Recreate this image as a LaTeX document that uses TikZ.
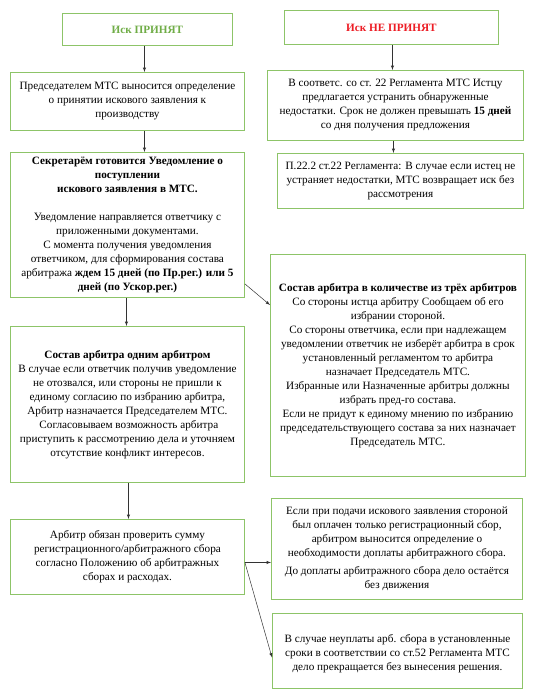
\documentclass[tikz,border=0pt]{standalone}
\usepackage{fontspec}
\setmainfont{Liberation Serif}
\usepackage{tikz}
\usetikzlibrary{arrows}
\definecolor{boxgreen}{RGB}{141,196,104}
\definecolor{okgreen}{RGB}{112,173,71}
\definecolor{nored}{RGB}{237,28,36}
\tikzstyle{abstract}=[rectangle, draw=boxgreen, line width=0.9pt, fill=white,
        text centered, align=center, anchor=north west, text=black, inner sep=2pt,
        font=\fontsize{11.2pt}{14pt}\selectfont]
\tikzstyle{myarrow}=[->, >=latex, line width=0.5pt, draw=black!80]

\begin{document}
\begin{tikzpicture}[x=1pt, y=-1pt]
	\useasboundingbox (0,0) rectangle (532,700);

	% left column
	\node (Accepted) [abstract, minimum width=170pt, minimum height=32pt] at (62,13)
        {\textcolor{okgreen}{\textbf{Иск ПРИНЯТ}}};

	\node (Decision) [abstract, minimum width=234pt, minimum height=58pt] at (10,72)
        {Председателем МТС выносится определение\\
         о принятии искового заявления к\\
         производству};

	\node (Notice) [abstract, minimum width=234pt, minimum height=145pt] at (10,152)
        {\textbf{Секретарём готовится Уведомление  о}\\
         \textbf{поступлении}\\
         \textbf{искового заявления в МТС.}\\[14pt]
         Уведомление направляется  ответчику с\\
         приложенными документами.\\
         С момента получения уведомления\\
         ответчиком, для сформирования состава\\
         арбитража  \textbf{ждем 15 дней (по Пр.рег.) или 5}\\
         \textbf{дней (по Ускор.рег.)}};

	\node (OneArb) [abstract, minimum width=234pt, minimum height=156pt] at (10,326)
        {\textbf{Состав арбитра одним арбитром}\\
         В случае если ответчик получив уведомление\\
         не отозвался,  или стороны  не пришли  к\\
         единому согласию по избранию арбитра,\\
         Арбитр назначается Председателем МТС.\\
         \ Согласовываем возможность арбитра\\
         приступить к рассмотрению дела и уточняем\\
         отсутствие  конфликт интересов.};

	\node (FeeCheck) [abstract, minimum width=234pt, minimum height=75pt] at (10,519)
        {Арбитр обязан проверить сумму\\
         регистрационного/арбитражного сбора\\
         согласно Положению об арбитражных\\
         сборах и расходах.};

	% right column
	\node (Rejected) [abstract, minimum width=214pt, minimum height=34pt] at (284,10)
        {\textcolor{nored}{\textbf{Иск НЕ ПРИНЯТ}}};

	\node (Remedy) [abstract, minimum width=256pt, minimum height=70pt] at (267,70)
        {В соответс. со ст. 22 Регламента МТС Истцу\\
         предлагается устранить обнаруженные\\
         недостатки. Срок не должен превышать \textbf{15 дней}\\
         со дня получения  предложения};

	\node (Return) [abstract, minimum width=246pt, minimum height=55pt] at (277,153)
        {П.22.2 ст.22 Регламента: В случае если истец не\\
         устраняет недостатки, МТС возвращает иск без\\
         рассмотрения};

	\node (ThreeArb) [abstract, minimum width=255pt, minimum height=222pt] at (270,254)
        {\textbf{Состав арбитра в количестве из трёх арбитров}\\
         Со стороны истца арбитру Сообщаем об его\\
         избрании стороной.\\
         Со стороны ответчика, если при надлежащем\\
         уведомлении ответчик не изберёт арбитра в срок\\
         установленный регламентом то арбитра\\
         назначает Председатель МТС.\\
         Избранные или Назначенные арбитры должны\\
         избрать пред-го состава.\\
         Если не придут к единому мнению по избранию\\
         председательствующего состава за них назначает\\
         Председатель МТС.};

	\node (FeeDue) [abstract, minimum width=251pt, minimum height=101pt] at (271,498)
        {Если  при подачи искового заявления  стороной\\
         был оплачен только регистрационный сбор,\\
         арбитром выносится определение о\\
         необходимости доплаты арбитражного сбора.\\[4pt]
         До доплаты арбитражного сбора  дело остаётся\\
         без движения};

	\node (Terminate) [abstract, minimum width=250pt, minimum height=75pt] at (272,613)
        {\mbox{}\\
         В случае неуплаты арб. сбора в установленные\\
         сроки в соответствии со ст.52 Регламента МТС\\
         дело прекращается без вынесения решения.};

	% connectors
	\draw[myarrow] ([xshift=-3pt]Accepted.south) -- ([xshift=-3pt]Accepted.south |- Decision.north);
	\draw[myarrow] ([xshift=17pt]Decision.south) -- ([xshift=17pt]Decision.south |- Notice.north);
	\draw[myarrow] ([xshift=-1pt]Notice.south) -- ([xshift=-1pt]Notice.south |- OneArb.north);
	\draw[myarrow] ([yshift=14pt]Notice.south east) -- ([yshift=-51pt]ThreeArb.north west);
	\draw[myarrow] ([xshift=1pt]OneArb.south) -- ([xshift=1pt]OneArb.south |- FeeCheck.north);
	\draw[myarrow] ([yshift=-5.5pt]FeeCheck.east) -- ([yshift=-5.5pt]FeeCheck.east -| FeeDue.west);
	\draw[myarrow] ([yshift=-5.5pt]FeeCheck.east) -- ([yshift=-6.5pt]Terminate.west);
	\draw[myarrow] ([xshift=1pt]Rejected.south) -- ([xshift=1pt]Rejected.south |- Remedy.north);
	\draw[myarrow] ([xshift=-2pt]Remedy.south) -- ([xshift=-2pt]Remedy.south |- Return.north);

\end{tikzpicture}
\end{document}
